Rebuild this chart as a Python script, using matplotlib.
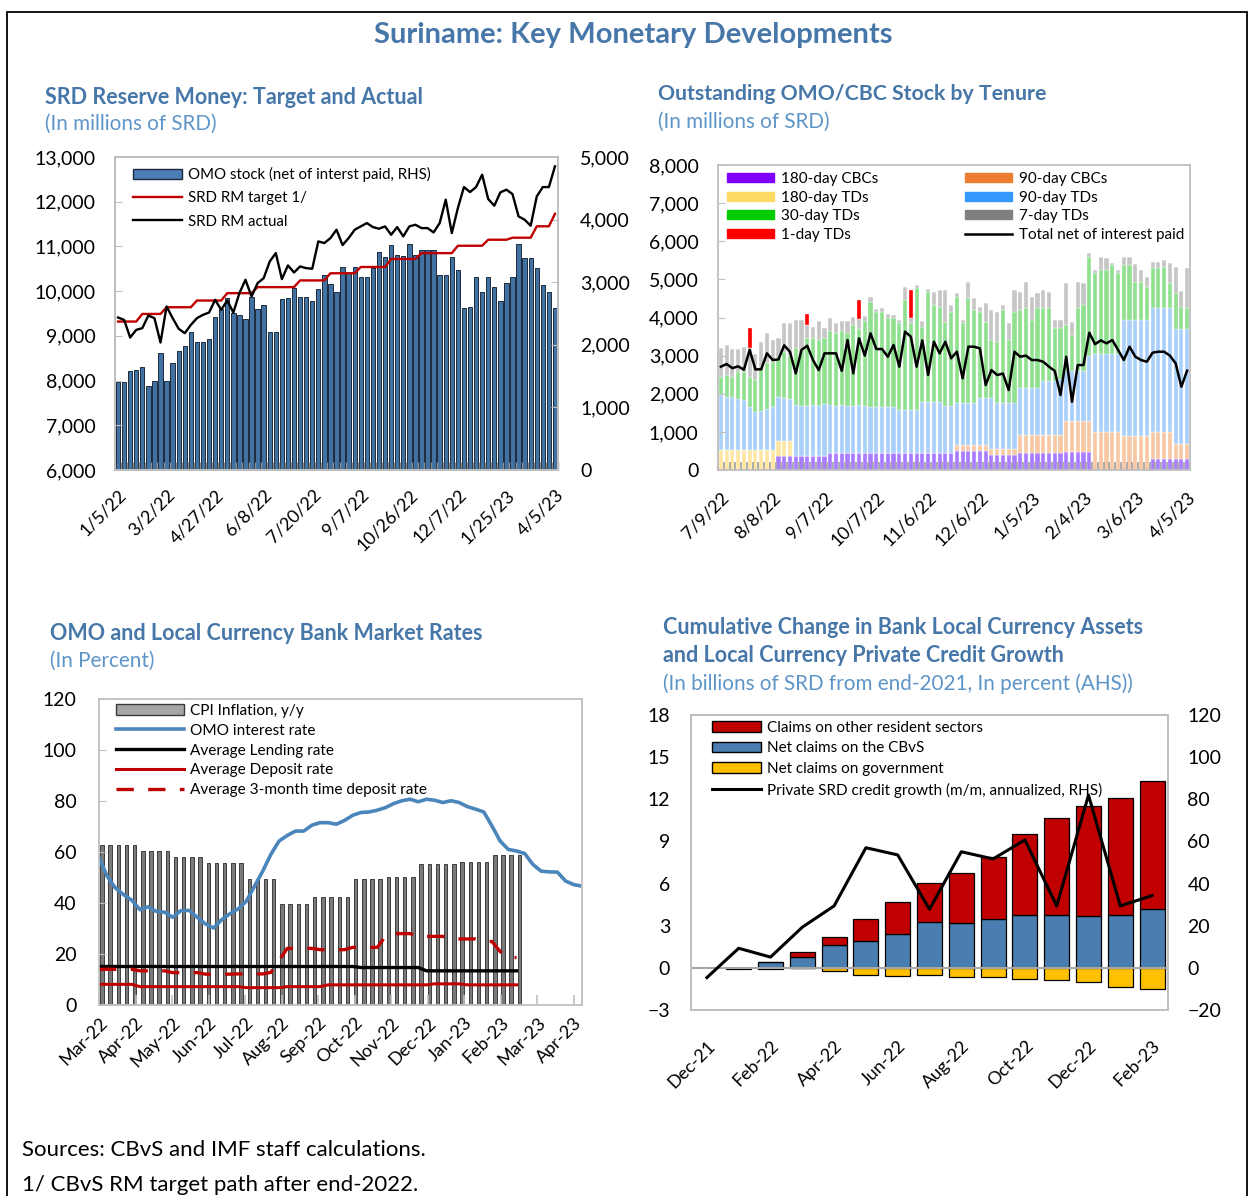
import matplotlib
matplotlib.use('Agg')
import matplotlib.pyplot as plt
import matplotlib.patches as patches
from matplotlib.lines import Line2D
from matplotlib.ticker import FuncFormatter
import numpy as np

plt.rcParams['font.family'] = ['Lato', 'DejaVu Sans']

# ---------------- data: SRD reserve money (weekly) ----------------
rm_dates = ['1/5/22', '3/2/22', '4/27/22', '6/8/22', '7/20/22', '9/7/22',
            '10/26/22', '12/7/22', '1/25/23', '4/5/23']
omo_stock = [1400, 1400, 1581, 1597, 1640, 1342, 1422, 1864, 1422, 1704,
             1901, 1981, 2199, 2039, 2039, 2098, 2449, 2577, 2742, 2513,
             2471, 2407, 2769, 2567, 2630, 2199, 2199, 2726, 2753, 2913,
             2769, 2769, 2705, 2891, 3110, 2971, 2849, 3248, 3142, 3237,
             3088, 3088, 3222, 3477, 3397, 3594, 3435, 3419, 3610, 3435,
             3514, 3514, 3514, 3110, 3110, 3408, 3195, 2588, 2609, 3088,
             2849, 3088, 2929, 2705, 2993, 3088, 3610, 3392, 3392, 3232,
             2950, 2849, 2583]
rm_target = ([9320] * 4 + [9490] * 4 + [9640] * 5 + [9790] * 5 + [9955] * 5 +
             [10090] * 7 + [10240] * 5 + [10400] * 5 + [10540] * 5 + [10720] * 5 +
             [10850] * 6 + [11015] * 5 + [11150] * 4 + [11195] * 4 + [11450] * 3 +
             [11730])
rm_actual = [9410, 9358, 8963, 9134, 9172, 9455, 9396, 8851, 9657, 9396,
             9157, 9060, 9246, 9396, 9470, 9522, 9806, 9582, 9791, 9522,
             9955, 10254, 9881, 10179, 10291, 10664, 10851, 10269, 10575, 10418,
             10552, 10515, 10500, 11112, 11075, 11187, 11373, 11030, 11187, 11373,
             11448, 11522, 11433, 11396, 11448, 11261, 11433, 11224, 11448, 11485,
             11410, 11410, 11313, 11522, 12045, 11299, 11858, 12328, 12216, 12328,
             12604, 12060, 11910, 12209, 12269, 12172, 11672, 11597, 11463, 12119,
             12328, 12328, 12791]

# ---------------- data: OMO/CBC stock by tenure ----------------
omo_dates = ['7/9/22', '8/8/22', '9/7/22', '10/7/22', '11/6/22', '12/6/22',
             '1/5/23', '2/4/23', '3/6/23', '4/5/23']
cbc180 = [0] * 10 + [370] * 9 + [450] * 22 + [500] * 6 + [390] * 5 + [440] * 8 + \
         [460] * 5 + [0] * 10 + [300] * 7
cbc90 = [0] * 41 + [155] * 6 + [150] * 5 + [480] * 8 + [830] * 5 + [1000] * 5 + \
        [880] * 5 + [700] * 4 + [380] * 3
td180 = [525] * 10 + [380] * 3 + [0] * 69
td90 = [1445, 1395, 1385, 1325, 1315, 1115, 1005, 1035, 1075, 1115,
        1170, 1130, 1100,
        1330, 1310, 1320, 1330, 1320, 1350,
        1250, 1240, 1260, 1230, 1240, 1250, 1240,
        1210, 1210, 1210, 1210, 1210,
        1130, 1130, 1130, 1130,
        1340, 1340, 1340, 1340,
        1230, 1230,
        1115, 1115, 1115, 1115,
        1225, 1225, 1340,
        1230, 1230, 1230, 1230,
        1230, 1230, 1230, 1240,
        1410, 1410, 1410, 1480,
        1310, 1310, 1310, 1310,
        1710,
        2050, 2050, 2050, 2050, 2050,
        3050, 3050, 3050, 3050, 3050,
        3240, 3240, 3240, 3240,
        3020, 3020, 3020]
td30 = [480, 570, 540, 730, 740, 810, 830, 1150, 1200, 1200,
        1030, 1220, 1150, 1500, 1470, 1760, 1750, 1710, 1730, 1950,
        1910, 1940, 1920, 2110, 2000, 2210, 2755, 2490, 2490, 2340,
        2320, 2270, 2880, 2270, 3190, 1970, 2890, 2540, 2490, 2210,
        2470, 2780, 2080, 2730, 2430, 2270, 2010, 1530, 1600, 2430,
        1640, 2380, 2050, 2090, 1780, 2080, 1910, 1910, 1385, 1315,
        1200, 940, 1640, 1730, 2600, 2110, 2200, 2200, 2330, 2110,
        1450, 1450, 1010, 1010, 880, 1050, 1050, 1090, 660, 930,
        580, 540]
td7 = [740, 790, 715, 585, 655, 750, 690, 655, 784, 570,
       500, 746, 846, 734, 784, 350, 310, 516, 265, 327,
       250, 250, 300, 220, 250, 150, 130, 80, 100, 80,
       80, 84, 348, 130, 80, 150, 80, 350, 440, 830,
       180, 80, 80, 440, 300, 120, 500, 780, 780, 130,
       440, 570, 480, 700, 620, 400, 480, 440, 220, 220,
       1100, 350, 700, 565, 80, 90, 350, 310, 40, 90,
       220, 220, 460, 310, 260, 170, 170, 170, 520, 700,
       420, 1060]
td1 = [0] * 5 + [520] + [0] * 9 + [290] + [0] * 8 + [510] + [0] * 8 + [740] + [0] * 48
omo_total = [2710, 2780, 2670, 2720, 2630, 3150, 2640, 2640, 3060, 2885,
             2900, 3270, 3100, 2535, 3147, 3260, 2885, 2620, 3060, 3060,
             3060, 2600, 3409, 2535, 3453, 3000, 3584, 3173, 3173, 2972,
             3280, 2710, 3628, 3497, 2710, 3400, 2491, 3365, 3060, 3365,
             2930, 3103, 2404, 3234, 3234, 3190, 2229, 2622, 2491, 2530,
             2098, 3103, 2972, 3000, 2885, 2885, 2840, 2710, 2600, 1967,
             2972, 1792, 2753, 2753, 3601, 3300, 3400, 3322, 3409, 3150,
             2885, 3234, 2972, 2885, 2840, 3077, 3103, 3103, 3000, 2800,
             2185, 2605]

# ---------------- data: rates (weekly) ----------------
rate_months = ['Mar-22', 'Apr-22', 'May-22', 'Jun-22', 'Jul-22', 'Aug-22', 'Sep-22',
               'Oct-22', 'Nov-22', 'Dec-22', 'Jan-23', 'Feb-23', 'Mar-23', 'Apr-23']
cpi = [62.6] * 5 + [60.5] * 4 + [58.1] * 4 + [55.8] * 5 + [49.6] * 4 + [39.6] * 4 + \
      [42.3] * 5 + [49.6] * 4 + [50.1] * 4 + [55.1] * 5 + [56.2] * 4 + [58.7] * 4
omo_rate = [57.7, 50.5, 45.9, 43.3, 41.1, 37.4, 38.5, 36.7, 36.4, 34.4,
            37.0, 37.1, 34.4, 31.8, 30.2, 33.5, 35.8, 37.7, 40.7, 46.6,
            52.5, 59.1, 64.3, 66.5, 68.2, 68.2, 70.5, 71.5, 71.5, 70.9,
            72.4, 74.4, 75.5, 75.7, 76.4, 77.4, 79.0, 80.1, 80.7, 79.7,
            80.7, 80.3, 79.4, 80.1, 79.4, 77.8, 76.8, 75.7, 70.2, 64.3,
            61.0, 60.4, 59.4, 55.1, 52.5, 52.2, 52.1, 48.6, 47.2, 46.6]
lending = [15.1] * 32 + [14.7] * 8 + [13.4] * 12
deposit = [8.1] * 5 + [7.2] * 13 + [6.8] * 5 + [7.2] * 5 + [7.9] * 13 + [8.3] * 4 + [7.9] * 7
td3m = [14.0] * 5 + [13.4] * 4 + [12.7] * 4 + [12.1] * 4 + [12.2] * 4 + [12.8] + [17.5] + \
       [22.2] * 4 + [21.7] * 4 + [22.6] * 4 + [27.0] + [28.0] * 3 + [26.9] * 4 + \
       [25.9] * 4 + [24.9] * 2 + [21.0] + [18.6] * 2

# ---------------- data: bank local currency assets (monthly) ----------------
bank_months = ['Dec-21', 'Jan-22', 'Feb-22', 'Mar-22', 'Apr-22', 'May-22', 'Jun-22', 'Jul-22',
               'Aug-22', 'Sep-22', 'Oct-22', 'Nov-22', 'Dec-22', 'Jan-23', 'Feb-23']
claims_other = [np.nan, 0, 0, 0.30, 0.54, 1.54, 2.27, 2.82, 3.60, 4.45, 5.74, 6.91, 7.80, 8.27, 9.08]
claims_cbvs = [np.nan, 0.02, 0.40, 0.80, 1.64, 1.92, 2.42, 3.25, 3.18, 3.46, 3.79, 3.79, 3.70, 3.79, 4.22]
claims_gov = [np.nan, -0.08, -0.10, -0.02, -0.20, -0.50, -0.57, -0.50, -0.66, -0.66, -0.76,
              -0.85, -1.04, -1.37, -1.47]
credit_growth = [-4.6, 9.3, 5.1, 19.3, 29.4, 57.0, 53.6, 27.8, 55.1, 51.7, 60.7, 29.4, 82.0, 29.4, 34.3]

# ---------------- figure ----------------
W, H = 1249, 1196
fig = plt.figure(figsize=(W / 100, H / 100), dpi=100)

TITLE = '#4677A8'
UNIT = '#5E95C8'
SPINE = '#BFBFBF'


def box(l, t, r, b):
    return [l / W, 1 - b / H, (r - l) / W, (b - t) / H]


def ftext(x, y, s, **kw):
    fig.text(x / W, 1 - y / H, s, va='center', **kw)


def style(ax):
    for s in ax.spines.values():
        s.set_color(SPINE)
        s.set_linewidth(1.3)


comma = FuncFormatter(lambda v, p: f'{v:,.0f}')

# frame and titles
fig.add_artist(patches.Rectangle((7 / W, -0.01), 1240 / W, 1.01 - 12 / H, transform=fig.transFigure,
                                 fill=False, edgecolor='black', lw=1.3))
ftext(633, 35, 'Suriname: Key Monetary Developments', ha='center', fontsize=21,
      fontweight='bold', color=TITLE)
ftext(45, 97, 'SRD Reserve Money: Target and Actual', fontsize=15.5, fontweight='bold', color=TITLE)
ftext(45, 124, '(In millions of SRD)', fontsize=14.9, color=UNIT)
ftext(658, 94, 'Outstanding OMO/CBC Stock by Tenure', fontsize=15.3, fontweight='bold', color=TITLE)
ftext(658, 122, '(In millions of SRD)', fontsize=14.9, color=UNIT)
ftext(50, 633, 'OMO and Local Currency Bank Market Rates', fontsize=15.5, fontweight='bold', color=TITLE)
ftext(50, 661, '(In Percent)', fontsize=14.9, color=UNIT)
ftext(663, 628, 'Cumulative Change in Bank Local Currency Assets', fontsize=15.5,
      fontweight='bold', color=TITLE)
ftext(663, 656, 'and Local Currency Private Credit Growth', fontsize=15.5,
      fontweight='bold', color=TITLE)
ftext(663, 684, '(In billions of SRD from end-2021, In percent (AHS))', fontsize=14.9, color=UNIT)
ftext(22, 1150, 'Sources: CBvS and IMF staff calculations.', fontsize=16)
ftext(22, 1185, '1/ CBvS RM target path after end-2022.', fontsize=16)

# ---------------- panel 1 ----------------
ax1 = fig.add_axes(box(115, 157, 558, 470))
ax1r = ax1.twinx()
ax1.set_zorder(ax1r.get_zorder() + 1)
ax1.patch.set_visible(False)
x1 = np.arange(len(omo_stock))
ax1r.bar(x1, omo_stock, width=0.72, color='#4272A2', edgecolor='#1B2A3C', lw=0.7)
ax1.plot(x1, rm_target, color='#C00000', lw=1.7)
ax1.plot(x1, rm_actual, color='black', lw=1.7)
ax1.set_xlim(-0.5, len(x1) - 0.5)
ax1.set_ylim(6000, 13000)
ax1r.set_ylim(0, 5000)
ax1.set_yticks(np.arange(6000, 13001, 1000))
ax1r.set_yticks(np.arange(0, 5001, 1000))
ax1.yaxis.set_major_formatter(comma)
ax1r.yaxis.set_major_formatter(comma)
ax1.tick_params(axis='y', direction='in', length=5, color=SPINE, labelsize=14, pad=14)
ax1r.tick_params(axis='y', direction='in', length=5, color=SPINE, labelsize=14, pad=16)
ax1.set_xticks(np.arange(0, len(x1), 8), rm_dates, rotation=45, ha='right', va='top',
               rotation_mode='anchor')
ax1.set_xticks(np.arange(-0.5, len(x1), 1), minor=True)
ax1.tick_params(axis='x', which='major', length=0, labelsize=13, pad=12)
ax1.tick_params(axis='x', which='minor', direction='in', length=6, color='#8C8C8C', width=1)
style(ax1)
style(ax1r)
h1 = [patches.Patch(facecolor='#4A7EB4', edgecolor='#1B2A3C', lw=1),
      Line2D([], [], color='#C00000', lw=1.7), Line2D([], [], color='black', lw=1.7)]
ax1.legend(h1, ['OMO stock (net of interst paid, RHS)', 'SRD RM target 1/', 'SRD RM actual'],
           loc='upper left', bbox_to_anchor=(0.04, 0.968), frameon=False, fontsize=10.8,
           borderpad=0, borderaxespad=0, handlelength=3.3, handletextpad=0.4, labelspacing=0.62)

# ---------------- panel 2 ----------------
ax2 = fig.add_axes(box(718, 165, 1190, 470))
x2 = np.arange(len(td90))
stack = [(cbc180, '#A97DFF'), (cbc90, '#F8C7A3'), (td180, '#FFE6A3'), (td90, '#A9D0FA'),
         (td30, '#8FE08F'), (td7, '#C6C6C6'), (td1, '#FF0000')]
bottom = np.zeros(len(x2))
for vals, col in stack:
    vals = np.array(vals, dtype=float)
    ax2.bar(x2, vals, bottom=bottom, width=0.72, color=col, edgecolor='white', lw=0.25)
    bottom = bottom + vals
ax2.plot(x2, omo_total, color='black', lw=1.8)
ax2.set_xlim(-0.5, len(x2) - 0.5)
ax2.set_ylim(0, 8000)
ax2.set_yticks(np.arange(0, 8001, 1000))
ax2.yaxis.set_major_formatter(comma)
ax2.tick_params(axis='y', direction='in', length=5, color=SPINE, labelsize=14, pad=14)
ax2.set_xticks(np.arange(0, len(x2), 9), omo_dates, rotation=45, ha='right', va='top',
               rotation_mode='anchor')
ax2.set_xticks(np.arange(-0.5, len(x2), 1), minor=True)
ax2.tick_params(axis='x', which='major', length=0, labelsize=13, pad=14)
ax2.tick_params(axis='x', which='minor', direction='in', length=6, color='#A6A6A6', width=1.3)
style(ax2)
left_h = [patches.Patch(color='#7F00FF'), patches.Patch(color='#FFD966'),
          patches.Patch(color='#00CC00'), patches.Patch(color='#FF0000')]
right_h = [patches.Patch(color='#ED7D31'), patches.Patch(color='#3399FF'),
           patches.Patch(color='#808080'), Line2D([], [], color='black', lw=1.8)]
lg_kw = dict(loc='upper left', frameon=False, fontsize=11, borderpad=0, borderaxespad=0,
             handlelength=3.1, handletextpad=0.45, labelspacing=0.3, handleheight=0.55)
lg2a = ax2.legend(left_h, ['180-day CBCs', '180-day TDs', '30-day TDs', '1-day TDs'],
                  bbox_to_anchor=(0.019, 0.977), **lg_kw)
ax2.add_artist(lg2a)
ax2.legend(right_h, ['90-day CBCs', '90-day TDs', '7-day TDs', 'Total net of interest paid'],
           bbox_to_anchor=(0.523, 0.977), **lg_kw)

# ---------------- panel 3 ----------------
ax3 = fig.add_axes(box(99, 699, 582, 1005))
x3 = np.arange(len(omo_rate))
ax3.bar(np.arange(len(cpi)) + 0.35, cpi, width=0.42, color='#7A7A7A', edgecolor='#2A2A2A', lw=0.6)
ax3.plot(x3, omo_rate, color='#4A86BC', lw=2.6)
xl = np.arange(len(lending))
ax3.plot(xl, lending, color='black', lw=2.4)
ax3.plot(xl, deposit, color='#C00000', lw=2.2)
ax3.plot(xl, td3m, color='#C00000', lw=2.4, dashes=(5.2, 4.3))
ax3.set_xlim(0, len(x3) - 1)
ax3.set_ylim(0, 120)
ax3.set_yticks(np.arange(0, 121, 20))
ax3.tick_params(axis='y', direction='in', length=5, color=SPINE, labelsize=14, pad=16)
month_pos = np.linspace(0, 58, len(rate_months))
ax3.set_xticks(month_pos, rate_months, rotation=45, ha='right', va='top', rotation_mode='anchor')
ax3.tick_params(axis='x', direction='in', length=7, color=SPINE, width=1.2, labelsize=13, pad=7)
style(ax3)
h3 = [patches.Patch(facecolor='#A6A6A6', edgecolor='#3A3A3A', lw=1),
      Line2D([], [], color='#4A86BC', lw=2.6), Line2D([], [], color='black', lw=2.4),
      Line2D([], [], color='#C00000', lw=2.2), Line2D([], [], color='#C00000', lw=2.4, dashes=(5.2, 4.3))]
ax3.legend(h3, ['CPI Inflation, y/y', 'OMO interest rate', 'Average Lending rate',
                'Average Deposit rate', 'Average 3-month time deposit rate'],
           loc='upper left', bbox_to_anchor=(0.035, 0.984), frameon=False, fontsize=11.1,
           borderpad=0, borderaxespad=0, handlelength=4.4, handletextpad=0.38, labelspacing=0.38)

# ---------------- panel 4 ----------------
ax4 = fig.add_axes(box(691, 715, 1168, 1010))
ax4r = ax4.twinx()
x4 = np.arange(len(bank_months))
cb = np.array(claims_cbvs)
ax4.bar(x4, claims_cbvs, width=0.78, color='#4A7EB0', edgecolor='black', lw=0.9)
ax4.bar(x4, claims_other, bottom=cb, width=0.78, color='#C00000', edgecolor='black', lw=0.9)
ax4.bar(x4, claims_gov, width=0.78, color='#FFC000', edgecolor='black', lw=0.9)
ax4.axhline(0, color='#A6A6A6', lw=1.5)
ax4r.plot(x4, credit_growth, color='black', lw=2.2)
ax4.set_xlim(-0.5, len(x4) - 0.5)
ax4.set_ylim(-3, 18)
ax4r.set_ylim(-20, 120)
ax4.set_yticks(np.arange(-3, 19, 3))
ax4r.set_yticks(np.arange(-20, 121, 20))
ax4.tick_params(axis='y', length=0, labelsize=14, pad=15)
ax4r.tick_params(axis='y', length=0, labelsize=14, pad=14)
ax4.set_xticks(x4[::2], bank_months[::2], rotation=45, ha='right', va='top', rotation_mode='anchor')
ax4.tick_params(axis='x', length=0, labelsize=13, pad=20)
style(ax4)
style(ax4r)
h4 = [patches.Patch(facecolor='#C00000', edgecolor='black', lw=1),
      patches.Patch(facecolor='#4A7EB0', edgecolor='black', lw=1),
      patches.Patch(facecolor='#FFC000', edgecolor='black', lw=1),
      Line2D([], [], color='black', lw=2.2)]
ax4r.legend(h4, ['Claims on other resident sectors', 'Net claims on the CBvS',
                 'Net claims on government', 'Private SRD credit growth (m/m, annualized, RHS)'],
            loc='upper left', bbox_to_anchor=(0.044, 0.98), frameon=False, fontsize=11,
            borderpad=0, borderaxespad=0, handlelength=3.2, handletextpad=0.4, labelspacing=0.43)

fig.savefig('out.png', dpi=100)
